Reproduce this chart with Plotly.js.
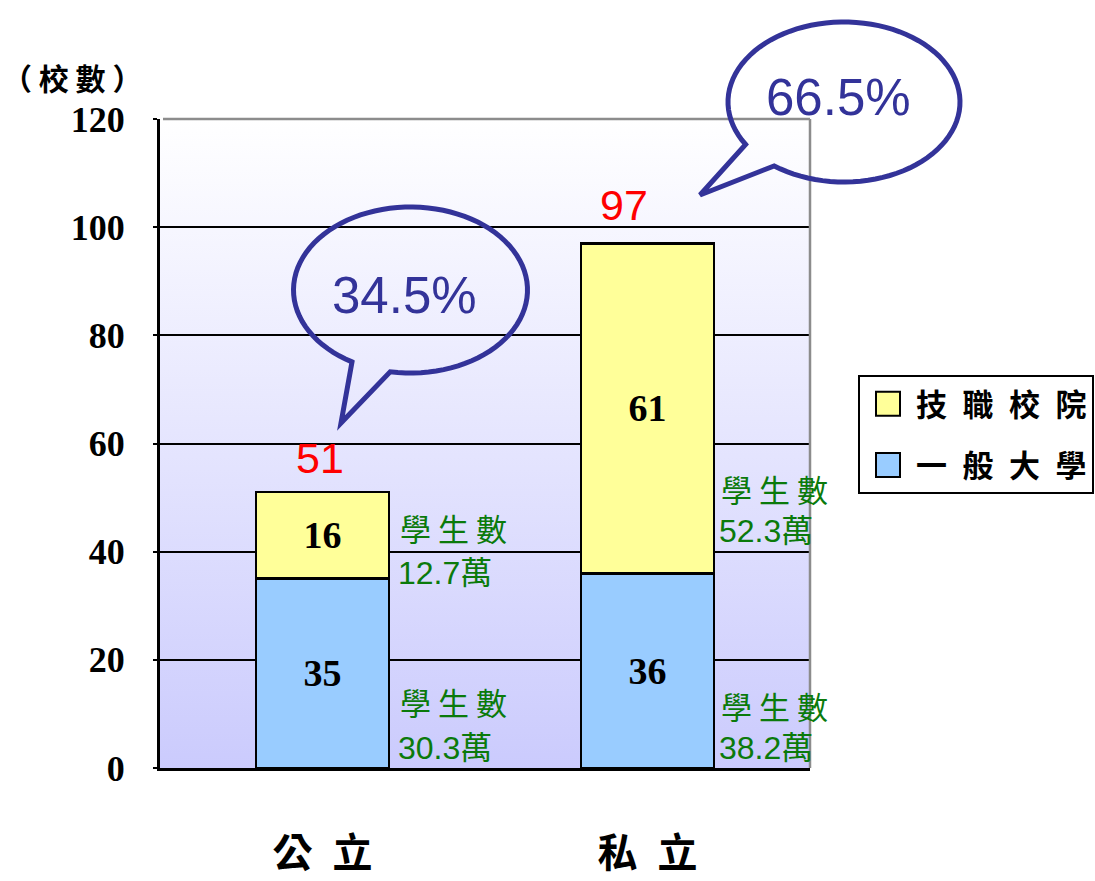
<!DOCTYPE html>
<html>
<head>
<meta charset="utf-8">
<script src="https://cdn.plot.ly/plotly-3.0.1.min.js"></script>
<style>
  html, body { margin: 0; padding: 0; background: #ffffff; }
  #chart { width: 1095px; height: 881px; }
</style>
</head>
<body>
<div id="chart"></div>
<script>
// School counts by sector, split into general universities and technical colleges
const categories = ['公立', '私立'];
const seriesNames = ['一般大學', '技職校院'];
const generalUniv = [35, 36];
const techColleges = [16, 61];
const shares = ['34.5%', '66.5%'];
const studentLabel = '學生數';
const studentsGeneral = ['30.3萬', '38.2萬'];
const studentsTech = ['12.7萬', '52.3萬'];
const yTicks = [0, 20, 40, 60, 80, 100, 120];

const totals = categories.map((c, i) => generalUniv[i] + techColleges[i]);

// Plot frame in page pixels
const W = 1095, H = 881;
const L = 160, R = 810, T = 119, B = 768;
const px = x => (x - L) / (R - L);
const py = y => (B - y) / (B - T);

const CJK = '"Noto Sans CJK TC", "Noto Sans CJK SC", sans-serif';
const SERIF = '"Liberation Serif", "Times New Roman", serif';
const SANS = '"Liberation Sans", Arial, "Noto Sans CJK TC", sans-serif';
const spaced = (s, gap) => s.split('').join(gap || '\u2002');

const blue = '#99ccff', yellow = '#ffff99', ink = '#333399', green = '#0b7a0b';

const barCommon = {
  type: 'bar',
  x: categories,
  textposition: 'inside',
  insidetextanchor: 'middle',
  textfont: { family: SERIF, size: 38, color: '#000000', weight: 'bold' },
  hoverinfo: 'skip'
};

const traces = [
  Object.assign({}, barCommon, {
    name: spaced(seriesNames[0]),
    y: generalUniv,
    text: generalUniv.map(String),
    legendgroup: 'general',
    legendrank: 2,
    marker: { color: blue, line: { color: '#000000', width: 2.5 } }
  }),
  Object.assign({}, barCommon, {
    name: spaced(seriesNames[1]),
    y: techColleges,
    text: techColleges.map(String),
    legendgroup: 'tech',
    legendrank: 1,
    marker: { color: yellow, line: { color: '#000000', width: 2.5 } }
  })
];

// Speech bubble outline: ellipse with a gap where the pointer tail joins
function bubblePath(cx, cy, rx, ry, a0, a1, tip) {
  const pts = [];
  const n = 90;
  for (let k = 0; k <= n; k++) {
    const a = (a0 + (a1 - a0) * k / n) * Math.PI / 180;
    pts.push([cx + rx * Math.cos(a), cy + ry * Math.sin(a)]);
  }
  pts.push(tip);
  return pts.map((p, k) => (k ? 'L' : 'M') + px(p[0]).toFixed(5) + ',' + py(p[1]).toFixed(5)).join(' ') + ' Z';
}

const bubbles = [
  { cx: 410.5, cy: 290, rx: 117, ry: 83, a0: 120, a1: 460, tip: [341, 423], tx: 404, ty: 295 },
  { cx: 844, cy: 102, rx: 116, ry: 80, a0: 148, a1: 487, tip: [700, 195], tx: 838, ty: 98 }
];

// Background gradient for the plotting area
const bgSvg = "<svg xmlns='http://www.w3.org/2000/svg' width='10' height='100' viewBox='0 0 10 100' preserveAspectRatio='none'>" +
  "<defs><linearGradient id='g' x1='0' y1='0' x2='0' y2='1'>" +
  "<stop offset='0' stop-color='#ffffff'/><stop offset='1' stop-color='#cbcbfd'/>" +
  "</linearGradient></defs><rect width='10' height='100' fill='url(#g)'/></svg>";

const shapes = [
  // gray top and right frame
  { type: 'line', xref: 'paper', yref: 'paper', x0: px(163), x1: 1, y0: 1, y1: 1,
    line: { color: '#8c8c8c', width: 2.5 }, layer: 'above' },
  { type: 'line', xref: 'paper', yref: 'paper', x0: 1, x1: 1, y0: 0, y1: 1,
    line: { color: '#8c8c8c', width: 2.5 }, layer: 'above' }
].concat(bubbles.map(b => ({
  type: 'path', xref: 'paper', yref: 'paper',
  path: bubblePath(b.cx, b.cy, b.rx, b.ry, b.a0, b.a1, b.tip),
  line: { color: ink, width: 5 }, fillcolor: 'rgba(0,0,0,0)', layer: 'above'
})));

const annotations = [];

// axis unit caption
annotations.push({
  xref: 'paper', yref: 'paper', x: px(0), y: py(77), xanchor: 'left', yanchor: 'middle',
  text: '（ 校 數 ）', showarrow: false,
  font: { family: CJK, size: 30, color: '#000000', weight: 'bold' }
});

// totals above each stack
const totalShift = [{ dx: -3, dy: 8 }, { dx: -24, dy: 12 }];
totals.forEach((t, i) => {
  annotations.push({
    x: categories[i], y: t, xref: 'x', yref: 'y', xanchor: 'center', yanchor: 'bottom',
    xshift: totalShift[i].dx, yshift: totalShift[i].dy,
    text: String(t), showarrow: false,
    font: { family: SANS, size: 43, color: '#ff0000' }
  });
});

// share of schools inside the bubbles
bubbles.forEach((b, i) => {
  annotations.push({
    xref: 'paper', yref: 'paper', x: px(b.tx), y: py(b.ty), xanchor: 'center', yanchor: 'middle',
    text: shares[i], showarrow: false,
    font: { family: SANS, size: 51, color: ink }
  });
});

// student counts beside each segment
const studentBlocks = [
  { x: 398, y1: 527, y2: 573, value: studentsTech[0] },
  { x: 398, y1: 701, y2: 748, value: studentsGeneral[0] },
  { x: 719, y1: 488, y2: 531, value: studentsTech[1] },
  { x: 719, y1: 705, y2: 748, value: studentsGeneral[1] }
];
studentBlocks.forEach(s => {
  annotations.push({
    xref: 'paper', yref: 'paper', x: px(s.x), y: py(s.y1), xanchor: 'left', yanchor: 'middle',
    text: spaced(studentLabel, ' '), showarrow: false,
    font: { family: CJK, size: 31, color: green }
  });
  annotations.push({
    xref: 'paper', yref: 'paper', x: px(s.x - 2), y: py(s.y2), xanchor: 'left', yanchor: 'middle',
    text: s.value, showarrow: false,
    font: { family: SANS, size: 32, color: green }
  });
});

const layout = {
  width: W, height: H,
  margin: { l: L, r: W - R, t: T, b: H - B, pad: 0, autoexpand: false },
  paper_bgcolor: '#ffffff',
  plot_bgcolor: 'rgba(0,0,0,0)',
  barmode: 'stack',
  bargap: 0.59,
  showlegend: true,
  legend: {
    x: px(858), y: py(375), xanchor: 'left', yanchor: 'top',
    traceorder: 'grouped', tracegroupgap: 18,
    bgcolor: '#ffffff', bordercolor: '#000000', borderwidth: 2,
    font: { family: CJK, size: 31, color: '#000000', weight: 'bold' },
    itemwidth: 46
  },
  xaxis: {
    type: 'category',
    range: [-0.5, 1.5],
    tickvals: categories,
    ticktext: categories.map(c => spaced(c)),
    ticks: '',
    ticklabelstandoff: 48,
    tickfont: { family: CJK, size: 40, color: '#000000', weight: 'bold' },
    showline: true, linecolor: '#000000', linewidth: 2.5,
    showgrid: false, zeroline: false, fixedrange: true
  },
  yaxis: {
    range: [0, 120],
    tickvals: yTicks,
    ticktext: yTicks.map(String),
    ticks: 'outside', ticklen: 4, tickwidth: 2, tickcolor: '#000000',
    ticklabelstandoff: 21,
    tickfont: { family: SERIF, size: 36, color: '#000000', weight: 'bold' },
    showline: true, linecolor: '#000000', linewidth: 3,
    showgrid: true, gridcolor: '#000000', gridwidth: 2,
    zeroline: false, fixedrange: true
  },
  images: [{
    source: 'data:image/svg+xml;charset=utf-8,' + encodeURIComponent(bgSvg),
    xref: 'paper', yref: 'paper', x: 0, y: 1, sizex: 1, sizey: 1,
    xanchor: 'left', yanchor: 'top', sizing: 'stretch', layer: 'below'
  }],
  shapes: shapes,
  annotations: annotations
};

Plotly.newPlot('chart', traces, layout, { displayModeBar: false, staticPlot: true }).then(gd => {
  // larger legend swatches
  gd.querySelectorAll('.legend .legendpoints path').forEach(p => {
    p.setAttribute('d', 'M12,12H-12V-12H12Z');
    p.style.strokeWidth = '2px';
    p.style.stroke = '#000000';
  });
});
</script>
</body>
</html>
